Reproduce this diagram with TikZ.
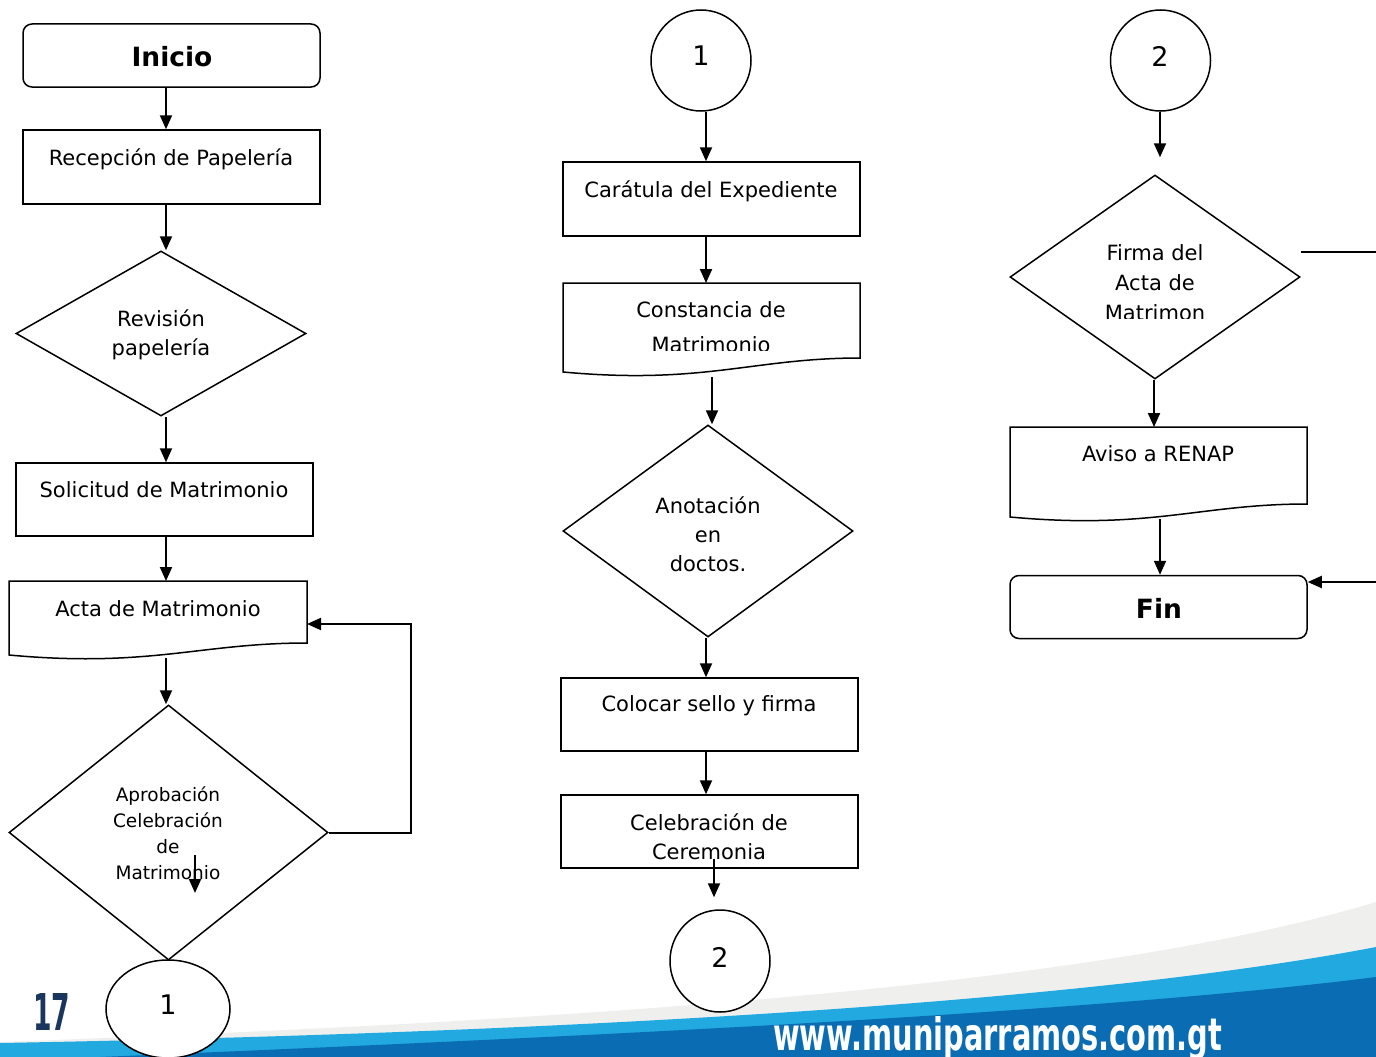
\documentclass[tikz,border=0pt]{standalone}
\usepackage{fontspec}
\usepackage{graphicx}
\setmainfont{DejaVu Sans}
\usetikzlibrary{shapes.geometric,arrows.meta,calc}
\definecolor{bandgray}{HTML}{EFEFED}
\definecolor{bandlight}{HTML}{22A9E0}
\definecolor{banddark}{HTML}{0A6DB3}
\definecolor{pagenum}{HTML}{1B365D}
% document symbol: name, left x, right x, top y, right bottom y, left bottom y
\newcommand\docshape[6]{%
  \draw[outline] (#2,#6) -- (#2,#4) -- (#3,#4) -- (#3,#5)
    .. controls ({#3-107},#5) and ({#2+141},{#6+13}) .. (#2,#6) -- cycle;
  \path ({(#2+#3)/2},#4) coordinate (#1-n);
}
\begin{document}
\begin{tikzpicture}[x=1pt,y=-1pt,
  outline/.style={draw=black,line width=1.5pt,fill=white},
  procbox/.style={outline,rectangle,minimum width=297pt,minimum height=73pt,inner sep=0pt},
  termbox/.style={outline,rectangle,rounded corners=9pt,minimum width=297pt,minimum height=63pt,inner sep=0pt},
  decision/.style={outline,diamond,inner sep=0pt},
  connector/.style={outline,ellipse,inner sep=0pt},
  txt/.style={font=\fontsize{21}{29}\selectfont,align=center,inner sep=0pt},
  boldtxt/.style={font=\fontsize{26.5}{30}\selectfont\bfseries,inner sep=0pt},
  num/.style={font=\fontsize{27}{30}\selectfont,inner sep=0pt},
  arr/.style={line width=2pt,-{Triangle[length=14pt,width=12pt]}},
  plain/.style={line width=1.6pt}
]
\useasboundingbox (0,0) rectangle (1376,1057);

% page footer band
\fill[bandgray] (0,1042) .. controls (600,1020) and (1100,985) .. (1376,902) -- (1376,1057) -- (0,1057) -- cycle;
\fill[bandlight] (0,1043) .. controls (600,1032) and (1100,1000) .. (1376,947) -- (1376,1057) -- (0,1057) -- cycle;
\fill[banddark] (100,1057) .. controls (600,1036) and (1100,1012) .. (1376,977) -- (1376,1057) -- cycle;
\node[anchor=base west,inner sep=0pt,text=pagenum] (pg) at (33,1030) {\resizebox{37pt}{37pt}{\bfseries 17}};
\node[anchor=base west,inner sep=0pt,text=white] (url) at (773,1050) {\resizebox{449pt}{34pt}{\bfseries www.muniparramos.com.gt}};

% ---------- first column ----------
\node[termbox] (inicio) at (171.5,55.5) {};
\node[boldtxt] (t-inicio) at (172,57) {Inicio};
\node[procbox,minimum height=74pt] (recep) at (171.5,167) {};
\node[txt] (t-recep) at (171,159) {Recepción de Papelería};
\node[decision,minimum width=290pt,minimum height=165pt] (rev) at (161,333.5) {};
\node[txt] (t-rev) at (161,335) {Revisión\\papelería};
\node[procbox] (sol) at (164.5,499.5) {};
\node[txt] (t-sol) at (164,490) {Solicitud de Matrimonio};
\docshape{acta}{9}{307}{581}{643}{655}
\node[txt] (t-acta) at (158,609) {Acta de Matrimonio};
\coordinate (acta-out) at (166,658);
\coordinate (acta-e) at (307,624);
\node[decision,minimum width=319pt,minimum height=255pt] (apro) at (168.5,832.5) {};
\node[txt,font=\fontsize{18.5}{26}\selectfont] (t-apro) at (168,833) {Aprobación\\Celebración\\de\\Matrimonio};
\coordinate (loop) at (411,0);
\coordinate (stray-a) at (195,855);
\coordinate (stray-b) at (195,893);
\node[connector,minimum width=124pt,minimum height=98pt] (con1b) at (168,1009) {};
\node[num] (n-con1b) at (168,1005) {1};

\draw[arr] ([xshift=-5.5pt]inicio.south) -- ([xshift=-5.5pt]recep.north);
\draw[arr] ([xshift=-5.5pt]recep.south) -- ([xshift=5pt]rev.north);
\draw[arr] ([xshift=5pt]rev.south) -- ([xshift=1.5pt]sol.north);
\draw[arr] ([xshift=1.5pt]sol.south) -- ([xshift=8pt]acta-n);
\draw[arr] (acta-out) -- ([xshift=-2.5pt]apro.north);
\draw[arr] (apro.east) -- (apro.east -| loop) |- (acta-e);
\draw[arr] (stray-a) -- (stray-b);

% ---------- second column ----------
\node[connector,minimum width=100pt,minimum height=101pt] (con1t) at (701,60.5) {};
\node[num] (n-con1t) at (701,56) {1};
\node[procbox,minimum height=74pt] (cara) at (711.5,199) {};
\node[txt] (t-cara) at (711,191) {Carátula del Expediente};
\docshape{cons}{563}{860}{283}{358}{372}
\begin{scope}
  \clip (563,283) rectangle (860,350);
  \node[txt,anchor=base] (t-cons-a) at (711,317) {Constancia de};
  \node[txt,anchor=base] (t-cons-b) at (711,352) {Matrimonio};
\end{scope}
\coordinate (cons-out) at (712,377);
\node[decision,minimum width=290pt,minimum height=212pt] (anot) at (708,531) {};
\node[txt] (t-anot) at (708,534) {Anotación\\en\\doctos.};
\node[procbox] (colo) at (709.5,714.5) {};
\node[txt] (t-colo) at (709,706) {Colocar sello y firma};
\node[procbox] (cele) at (709.5,831.5) {};
\node[txt] (t-cele) at (709,836.5) {Celebración de\\Ceremonia};
\node[connector,minimum width=100pt,minimum height=102pt] (con2b) at (720,961) {};
\node[num] (n-con2b) at (720,957) {2};

\draw[arr] ([xshift=5pt]con1t.south) -- ([xshift=-5.5pt]cara.north);
\draw[arr] ([xshift=-5.5pt]cara.south) -- ([xshift=-5.5pt]cons-n);
\draw[arr] (cons-out) -- ([xshift=4pt]anot.north);
\draw[arr] ([xshift=-2pt]anot.south) -- ([xshift=-3.5pt]colo.north);
\draw[arr] ([xshift=-3.5pt]colo.south) -- ([xshift=-3.5pt]cele.north);
\draw[arr] ([xshift=4.5pt,yshift=10pt]cele.south) -- ([xshift=-6pt,yshift=12pt]con2b.north);

% ---------- third column ----------
\node[connector,minimum width=100pt,minimum height=101pt] (con2t) at (1160.5,60.5) {};
\node[num] (n-con2t) at (1160,56) {2};
\node[decision,minimum width=290pt,minimum height=204pt] (firma) at (1155,277) {};
\begin{scope}
  \clip (1010,175) rectangle (1300,318);
  \node[txt,anchor=base] (t-firma-a) at (1155,260) {Firma del};
  \node[txt,anchor=base] (t-firma-b) at (1155,290) {Acta de};
  \node[txt,anchor=base] (t-firma-c) at (1155,320) {Matrimon};
\end{scope}
\coordinate (firma-out) at (1301,252);
\coordinate (edge-a) at (1376,252);
\docshape{aviso}{1010}{1307}{427}{504}{517}
\node[txt] (t-aviso) at (1158,454) {Aviso a RENAP};
\coordinate (aviso-out) at (1160,519);
\node[termbox] (fin) at (1158.5,607) {};
\node[boldtxt] (t-fin) at (1159,608) {Fin};
\coordinate (edge-b) at (1376,582);

\draw[arr] ([xshift=-0.5pt]con2t.south) -- ([xshift=5pt,yshift=17pt]firma.north);
\draw[plain] (firma-out) -- (edge-a);
\draw[arr] ([xshift=-1pt]firma.south) -- ([xshift=-4.5pt]aviso-n);
\draw[arr] (aviso-out) -- ([xshift=1.5pt]fin.north);
\draw[arr] (edge-b) -- (fin.east |- edge-b);
\end{tikzpicture}
\end{document}
